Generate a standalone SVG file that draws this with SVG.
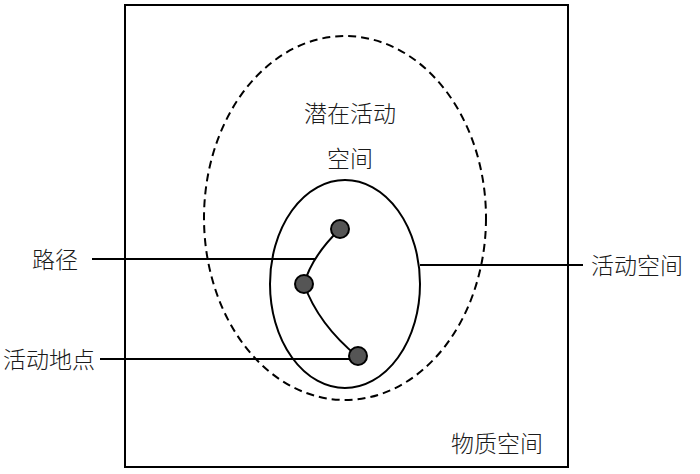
<svg xmlns="http://www.w3.org/2000/svg" width="700" height="474" viewBox="0 0 700 474">
<style>
.t{font-family:"Liberation Sans","Noto Sans CJK SC",sans-serif;font-size:23px;font-weight:300;fill:#1a1a1a}
.s{fill:none;stroke:#000;stroke-width:2}
.n{fill:#555;stroke:#000;stroke-width:2}
</style>
<rect x="0" y="0" width="700" height="474" fill="#fff"/>
<g id="physical-space">
<rect class="s" x="125" y="5" width="443" height="462"/>
<text class="t" x="451" y="452">物质空间</text>
</g>
<g id="potential-space">
<ellipse class="s" cx="345" cy="218" rx="141" ry="182" stroke-dasharray="8,5"/>
<text class="t" x="350" y="122" text-anchor="middle">潜在活动</text>
<text class="t" x="350" y="167" text-anchor="middle">空间</text>
</g>
<g id="activity-space">
<ellipse class="s" cx="345" cy="284" rx="75" ry="104"/>
</g>
<g id="connectors">
<path class="s" d="M340,229 Q312,256 304,284 Q318,324 358,357"/>
<line class="s" x1="92" y1="259" x2="316" y2="259"/>
<line class="s" x1="100" y1="359" x2="358" y2="359"/>
<line class="s" x1="420" y1="265" x2="583" y2="265"/>
</g>
<g id="node-1"><circle class="n" cx="340" cy="229" r="9"/></g>
<g id="node-2"><circle class="n" cx="304" cy="284" r="9"/></g>
<g id="node-3"><circle class="n" cx="358" cy="356" r="9"/></g>
<g id="label-path"><text class="t" x="32" y="268">路径</text></g>
<g id="label-place"><text class="t" x="3" y="368">活动地点</text></g>
<g id="label-space"><text class="t" x="591" y="274">活动空间</text></g>
</svg>
